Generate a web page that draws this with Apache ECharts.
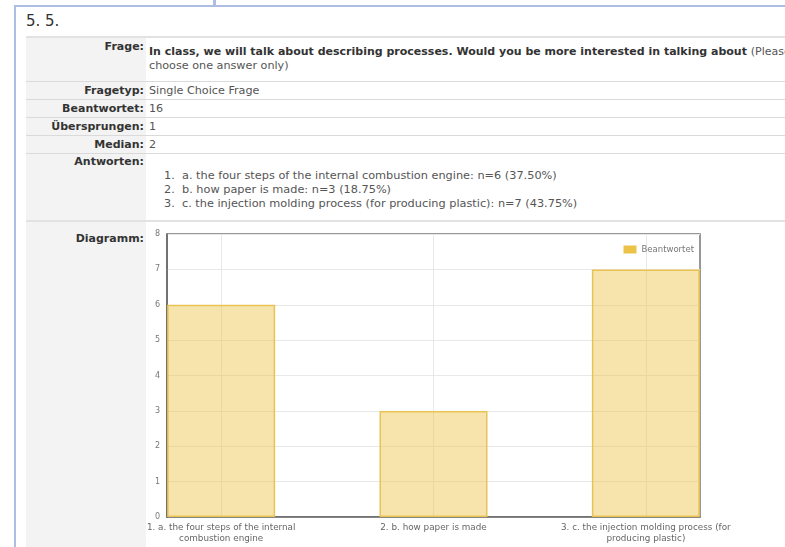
<!DOCTYPE html>
<html>
<head>
<meta charset="utf-8">
<script src="https://cdn.jsdelivr.net/npm/echarts@6/dist/echarts.min.js"></script>
<style>
body { margin: 0; width: 785px; height: 547px; overflow: hidden; background: #fff; font-family: "DejaVu Sans", Verdana, sans-serif; position: relative; }
.abs { position: absolute; }
.blue { background: #aebde2; }
.lab { position: absolute; left: 26px; width: 118px; text-align: right; font-weight: bold; font-size: 11px; color: #333; }
.val { position: absolute; left: 149px; font-size: 11.2px; color: #555; white-space: nowrap; }
.sep { position: absolute; left: 26px; right: 0; height: 1px; background: #dadada; }
</style>
</head>
<body>
<div class="abs blue" style="left:14px;top:5px;right:0;height:2px"></div>
<div class="abs blue" style="left:14px;top:5px;width:2px;bottom:0"></div>
<div class="abs blue" style="left:213px;top:0;width:3px;height:6px"></div>
<div class="abs" style="left:26px;top:12px;font-size:15px;color:#333">5. 5.</div>

<div class="abs" style="left:26px;top:37px;width:120px;bottom:0;background:#f3f3f3"></div>
<div class="sep" style="top:36px;height:2px;background:#e2e2e2"></div>
<div class="sep" style="top:81px"></div>
<div class="sep" style="top:99px"></div>
<div class="sep" style="top:117px"></div>
<div class="sep" style="top:135px"></div>
<div class="sep" style="top:153px"></div>
<div class="sep" style="top:220px;height:2px;background:#e2e2e2"></div>

<div class="lab" style="top:40px">Frage:</div>
<div class="val" style="top:45px;font-size:11px;font-weight:bold;color:#333">In class, we will talk about describing processes. Would you be more interested in talking about <span style="font-weight:normal;color:#555">(Please</span></div>
<div class="val" style="top:59px">choose one answer only)</div>
<div class="lab" style="top:84px">Fragetyp:</div>
<div class="val" style="top:84px">Single Choice Frage</div>
<div class="lab" style="top:102px">Beantwortet:</div>
<div class="val" style="top:102px">16</div>
<div class="lab" style="top:120px">Übersprungen:</div>
<div class="val" style="top:120px">1</div>
<div class="lab" style="top:138px">Median:</div>
<div class="val" style="top:138px">2</div>
<div class="lab" style="top:155px">Antworten:</div>
<div class="val" style="top:169px;left:164px;line-height:14px;font-size:11.3px">1.&nbsp; a. the four steps of the internal combustion engine: n=6 (37.50%)<br>2.&nbsp; b. how paper is made: n=3 (18.75%)<br>3.&nbsp; c. the injection molding process (for producing plastic): n=7 (43.75%)</div>
<div class="lab" style="top:232px">Diagramm:</div>

<div id="graph" class="abs" style="left:146px;top:221px;width:639px;height:326px"></div>
<script>
var categories = ['1. a. the four steps of the internal\ncombustion engine', '2. b. how paper is made', '3. c. the injection molding process (for\nproducing plastic)'];
var positions = [1, 2, 3];
var answered = [6, 3, 7];
var yTicks = [0, 1, 2, 3, 4, 5, 6, 7, 8];

var dom = document.getElementById("graph");
var myChart = echarts.init(dom);
var option = {
    animation: false,
    grid: {
        left: 21, top: 13, right: 85, bottom: 30,
        outerBoundsMode: 'none', containLabel: false,
        show: true, borderColor: '#777', borderWidth: 1.5, backgroundColor: '#fff'
    },
    legend: {
        right: 86, top: 19,
        data: [{ name: 'Beantwortet', itemStyle: { color: '#eac347', borderWidth: 0 } }],
        icon: 'rect', itemWidth: 13, itemHeight: 8, itemGap: 5,
        textStyle: { fontSize: 8.5, color: '#777', fontFamily: 'DejaVu Sans' }
    },
    xAxis: {
        type: 'value',
        min: 0.745, max: 3.255,
        axisLine: { show: true, lineStyle: { color: '#666', width: 1.5 } },
        axisTick: { show: false, customValues: positions },
        splitLine: { show: true, lineStyle: { color: '#e8e8e8' } },
        axisLabel: {
            customValues: positions,
            formatter: function (v) { return categories[Math.round(v) - 1] || ''; },
            fontSize: 8.8, color: '#666', lineHeight: 11, margin: 5,
            fontFamily: 'DejaVu Sans'
        }
    },
    yAxis: {
        type: 'value',
        min: yTicks[0], max: yTicks[yTicks.length - 1], interval: 1,
        axisLine: { show: true, lineStyle: { color: '#666', width: 1.5 } },
        axisTick: { show: false },
        splitLine: { lineStyle: { color: '#e8e8e8' } },
        axisLabel: { fontSize: 8, color: '#777', margin: 7, fontFamily: 'DejaVu Sans' }
    },
    series: [{
        name: 'Beantwortet',
        type: 'bar',
        barWidth: 108,
        data: positions.map(function (p, i) { return [p, answered[i]]; }),
        itemStyle: { color: 'rgba(234,195,71,0.45)', borderColor: '#e9c455', borderWidth: 1.5 }
    }]
};
myChart.setOption(option, true);
</script>
</body>
</html>
